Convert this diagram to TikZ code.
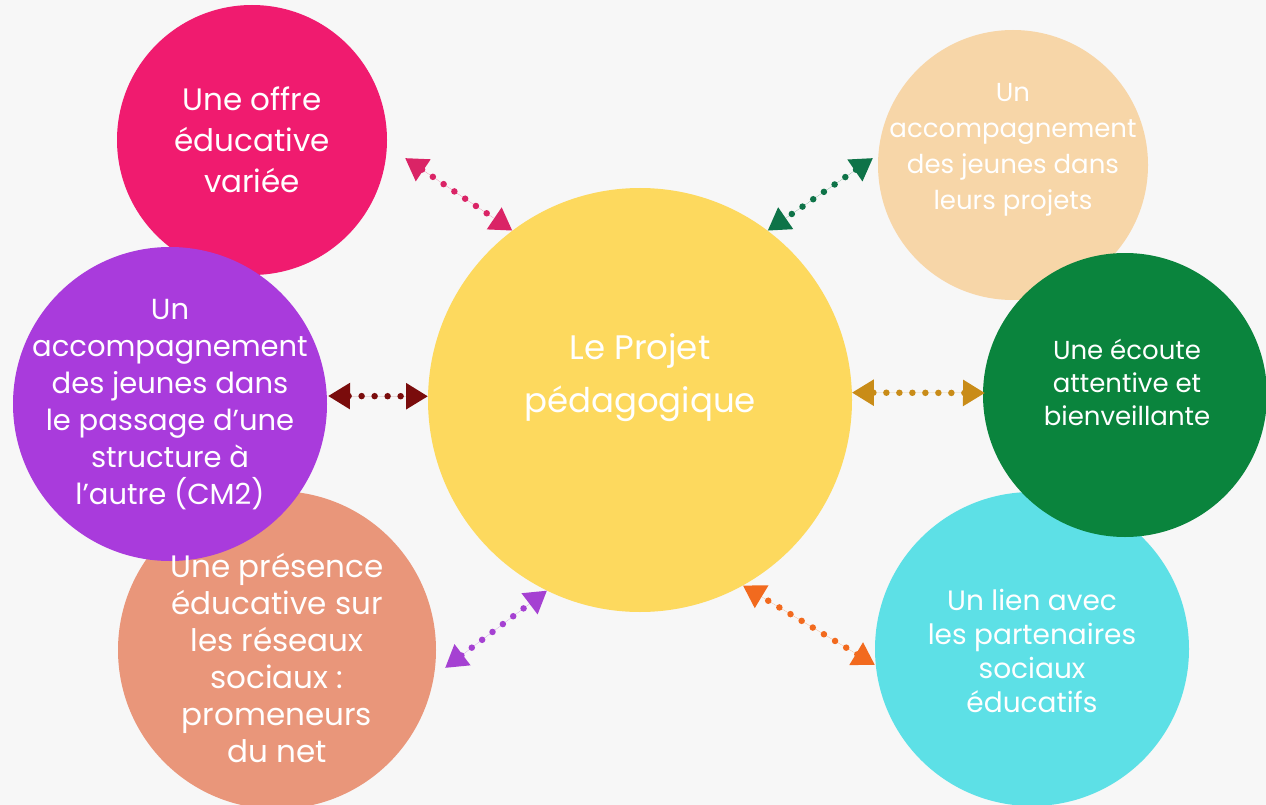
\documentclass[tikz,border=0pt]{standalone}
\usepackage{fontspec}
\setmainfont{Poppins}
\usetikzlibrary{arrows.meta}

\definecolor{bggray}{HTML}{F7F7F7}
\definecolor{offrepink}{HTML}{F01B6F}
\definecolor{passagepurple}{HTML}{A93BDC}
\definecolor{reseausalmon}{HTML}{E9967A}
\definecolor{projetyellow}{HTML}{FDD95E}
\definecolor{projetspeach}{HTML}{F7D6A8}
\definecolor{ecoutegreen}{HTML}{0A843D}
\definecolor{liencyan}{HTML}{5DE0E6}
\definecolor{linkpink}{HTML}{DA2466}
\definecolor{linkgreen}{HTML}{0E7348}
\definecolor{linkred}{HTML}{7A0C0C}
\definecolor{linkgold}{HTML}{C98C18}
\definecolor{linkpurple}{HTML}{A541D2}
\definecolor{linkorange}{HTML}{F26A1E}

\begin{document}
\begin{tikzpicture}[x=1pt, y=-1pt,
    bubble/.style={circle, fill=#1, inner sep=0pt, outer sep=0pt},
    txt/.style={text=white, align=center, inner sep=0pt},
    link/.style={draw=#1, fill=#1, line width=6.5pt, line cap=round,
        dash pattern=on 0pt off 13pt,
        {Triangle[length=22pt, width=25pt]}-{Triangle[length=22pt, width=25pt]}}]
    \useasboundingbox (0,0) rectangle (1266,805);
    \clip (0,0) rectangle (1266,805);
    \fill[bggray] (0,0) rectangle (1266,805);

    % bubbles, back to front
    \node[bubble=offrepink, minimum size=270pt] (offre) at (252,140) {};
    \node[bubble=reseausalmon, minimum size=318pt] (reseaux) at (277,650) {};
    \node[bubble=passagepurple, minimum size=314pt] (passage) at (170,404) {};
    \node[bubble=projetspeach, minimum size=270pt] (projets) at (1013,165) {};
    \node[bubble=liencyan, minimum size=314pt] (lien) at (1032,649) {};
    \node[bubble=ecoutegreen, minimum size=284pt] (ecoute) at (1125,395) {};
    \node[bubble=projetyellow, minimum size=424pt] (projet) at (640,400) {};

    % texts
    \node[txt, font=\fontsize{31}{41}\selectfont] (offre-t) at (252,140) {Une offre\\éducative\\variée};
    \node[txt, font=\fontsize{29}{37}\selectfont] (passage-t) at (170,405) {Un\\accompagnement\\des jeunes dans\\le passage d’une\\structure à\\l’autre (CM2)};
    \node[txt, font=\fontsize{31}{37}\selectfont] (reseaux-t) at (277,658) {Une présence\\éducative sur\\les réseaux\\sociaux :\\promeneurs\\du net};
    \node[txt, font=\fontsize{26}{36}\selectfont] (projets-t) at (1013,150) {Un\\accompagnement\\des jeunes dans\\leurs projets};
    \node[txt, font=\fontsize{26}{33}\selectfont] (ecoute-t) at (1127,382) {Une écoute\\attentive et\\bienveillante};
    \node[txt, font=\fontsize{28}{34}\selectfont] (lien-t) at (1032,651) {Un lien avec\\les partenaires\\sociaux\\éducatifs};
    \node[txt, font=\fontsize{34}{53}\selectfont] (projet-t) at (640,378) {Le Projet\\pédagogique};

    % free ends of the links
    \coordinate (offre-e) at (405,158);
    \coordinate (projets-e) at (873,158);
    \coordinate (passage-e) at (328,396);
    \coordinate (ecoute-e) at (985,393);
    \coordinate (reseaux-e) at (445,668);
    \coordinate (lien-e) at (875,665);

    \draw[link=linkpink] (offre-e) -- (projet.127.5);
    \draw[link=linkgreen] (projets-e) -- (projet.53.3);
    \draw[link=linkred] (passage-e) -- (projet.179);
    \draw[link=linkgold] (ecoute-e) -- (projet.2);
    \draw[link=linkpurple] (reseaux-e) -- (projet.-116.7);
    \draw[link=linkorange] (lien-e) -- (projet.-61.4);
\end{tikzpicture}
\end{document}
